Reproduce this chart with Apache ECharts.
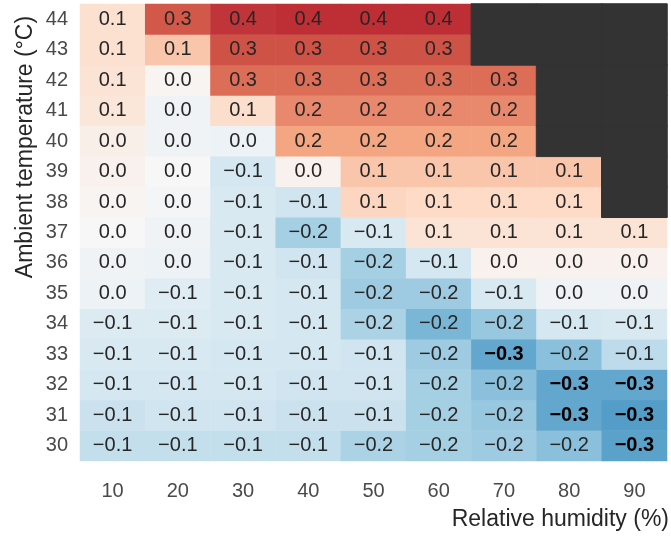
<!DOCTYPE html>
<html>
<head>
<meta charset="utf-8">
<script src="https://cdn.jsdelivr.net/npm/echarts@6/dist/echarts.min.js"></script>
<style>
html,body{margin:0;padding:0;background:#fff;}
#chart{width:671px;height:539px;}
</style>
</head>
<body>
<div id="chart"></div>
<script>
// Relative humidity categories (x) and ambient temperature categories (y)
const humidity = ['10', '20', '30', '40', '50', '60', '70', '80', '90'];
const temperatures = ['30', '31', '32', '33', '34', '35', '36', '37', '38', '39', '40', '41', '42', '43', '44'];

// One row per temperature (values per humidity); null = no data (dark cell)
const t44 = [0.08, 0.31, 0.36, 0.37, 0.37, 0.37, null, null, null];
const t43 = [0.08, 0.14, 0.32, 0.32, 0.32, 0.32, null, null, null];
const t42 = [0.07, 0.01, 0.28, 0.28, 0.28, 0.28, 0.28, null, null];
const t41 = [0.06, -0.02, 0.09, 0.24, 0.24, 0.24, 0.24, null, null];
const t40 = [0.03, -0.02, -0.03, 0.20, 0.20, 0.20, 0.20, null, null];
const t39 = [0.02, 0.00, -0.09, 0.02, 0.14, 0.14, 0.14, 0.14, null];
const t38 = [0.01, -0.01, -0.08, -0.10, 0.11, 0.10, 0.10, 0.10, null];
const t37 = [0.00, -0.02, -0.08, -0.17, -0.08, 0.07, 0.07, 0.07, 0.07];
const t36 = [-0.02, -0.03, -0.08, -0.10, -0.17, -0.09, 0.02, 0.02, 0.02];
const t35 = [-0.03, -0.06, -0.08, -0.09, -0.18, -0.18, -0.08, -0.02, -0.02];
const t34 = [-0.07, -0.07, -0.08, -0.09, -0.16, -0.23, -0.19, -0.09, -0.08];
const t33 = [-0.08, -0.08, -0.09, -0.09, -0.10, -0.18, -0.26, -0.21, -0.13];
const t32 = [-0.09, -0.09, -0.09, -0.10, -0.10, -0.17, -0.21, -0.26, -0.26];
const t31 = [-0.11, -0.10, -0.10, -0.11, -0.11, -0.17, -0.19, -0.26, -0.28];
const t30 = [-0.12, -0.12, -0.12, -0.12, -0.16, -0.17, -0.18, -0.21, -0.27];

const rows = [t30, t31, t32, t33, t34, t35, t36, t37, t38, t39, t40, t41, t42, t43, t44];

const cells = [];
const missing = [];
rows.forEach((row, yi) => {
  row.forEach((v, xi) => {
    if (v === null) missing.push([xi, yi, 1]);
    else cells.push([xi, yi, v]);
  });
});

function fmt(v) {
  let r = Math.round(v * 10) / 10;
  if (Math.abs(r) < 1e-9) r = 0;
  return r.toFixed(1).replace('-', '\u2212');
}

const FONT = '"Liberation Sans", Arial, Helvetica, sans-serif';
const chart = echarts.init(document.getElementById('chart'), null, {renderer: 'canvas'});
chart.setOption({
  animation: false,
  backgroundColor: '#ffffff',
  grid: {left: 80, right: 4, top: 4, bottom: 78},
  xAxis: {
    type: 'category',
    data: humidity,
    axisLine: {show: false},
    axisTick: {show: false},
    splitLine: {show: false},
    axisLabel: {interval: 0, margin: 20, fontSize: 20, color: '#4a4a4a', fontFamily: FONT}
  },
  yAxis: {
    type: 'category',
    data: temperatures,
    axisLine: {show: false},
    axisTick: {show: false},
    splitLine: {show: false},
    axisLabel: {interval: 0, margin: 12, fontSize: 20, color: '#4a4a4a', fontFamily: FONT}
  },
  visualMap: {
    show: false,
    type: 'continuous',
    seriesIndex: 0,
    min: -0.5,
    max: 0.5,
    inRange: {
      color: ['#053061', '#2166ac', '#4393c3', '#92c5de', '#d1e5f0', '#f7f7f7',
              '#fddbc7', '#f4a582', '#d6604d', '#b2182b', '#67001f']
    }
  },
  series: [
    {
      type: 'heatmap',
      data: cells,
      emphasis: {disabled: true},
      label: {
        show: true,
        formatter: p => {
          const s = fmt(p.value[2]);
          return (s === '\u22120.3' ? '{b|' : '{n|') + s + '}';
        },
        rich: {
          n: {fontSize: 20, color: '#262626', fontFamily: FONT},
          b: {fontSize: 20, color: '#000000', fontWeight: 'bold', fontFamily: FONT}
        }
      }
    },
    {
      type: 'heatmap',
      data: missing,
      emphasis: {disabled: true},
      itemStyle: {color: '#333333', borderColor: '#333333', borderWidth: 1},
      label: {show: false}
    }
  ],
  graphic: [
    {
      type: 'text',
      x: 26, y: 147,
      rotation: Math.PI / 2,
      style: {text: 'Ambient temperature (°C)', fontSize: 23, fill: '#262626', fontFamily: FONT, align: 'center', verticalAlign: 'middle'}
    },
    {
      type: 'text',
      x: 669, y: 520,
      style: {text: 'Relative humidity (%)', fontSize: 23, fill: '#262626', fontFamily: FONT, align: 'right', verticalAlign: 'middle'}
    }
  ]
});
</script>
</body>
</html>
